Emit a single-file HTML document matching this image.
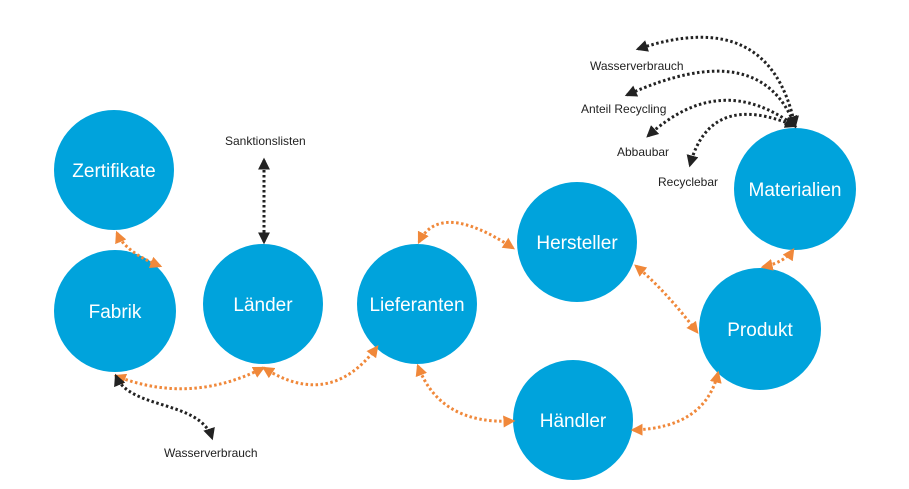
<!DOCTYPE html>
<html><head><meta charset="utf-8"><style>body{margin:0;background:#fff}svg{display:block}</style></head><body>
<svg width="909" height="489" viewBox="0 0 909 489" xmlns="http://www.w3.org/2000/svg" font-family="Liberation Sans, sans-serif">
<defs>
<marker id="ao" viewBox="0 0 10 10" refX="8" refY="5" markerWidth="4" markerHeight="4" orient="auto-start-reverse"><path d="M0,0L10,5L0,10z" fill="#f0883a"/></marker>
<marker id="ak" viewBox="0 0 10 10" refX="8" refY="5" markerWidth="4" markerHeight="4" orient="auto-start-reverse"><path d="M0,0L10,5L0,10z" fill="#222"/></marker>
</defs>
<g fill="#00a3dc">
<circle cx="114" cy="170" r="60"/><circle cx="115" cy="311" r="61"/><circle cx="263" cy="304" r="60"/><circle cx="417" cy="304" r="60"/><circle cx="577" cy="242" r="60"/><circle cx="573" cy="420" r="60"/><circle cx="760" cy="329" r="61"/><circle cx="795" cy="189" r="61"/>
</g>
<g fill="#fff" font-size="19" text-anchor="middle">
<text x="114" y="177">Zertifikate</text><text x="115" y="318">Fabrik</text><text x="263" y="311">Länder</text><text x="417" y="311">Lieferanten</text><text x="577" y="249">Hersteller</text><text x="573" y="427">Händler</text><text x="760" y="336">Produkt</text><text x="795" y="196">Materialien</text>
</g>
<g fill="none" stroke="#f0883a" stroke-width="3" stroke-dasharray="2.5 2.5" marker-start="url(#ao)" marker-end="url(#ao)">
<path d="M117,233 Q125,252 160,266"/>
<path d="M116,376 Q190,405 263,368"/>
<path d="M264,368 Q330,410 377,347"/>
<path d="M419,242 Q440,200 513,248"/>
<path d="M418,366 Q440,425 513,421"/>
<path d="M636,266 Q665,290 697,332"/>
<path d="M633,430 Q705,428 718,373"/>
<path d="M763,267 Q785,262 793,250"/>
</g>
<g fill="none" stroke="#222" stroke-width="3" stroke-dasharray="2.5 2.5" marker-start="url(#ak)" marker-end="url(#ak)">
<path d="M116,376 C130,410 200,400 212,438"/>
<path d="M264,160 L264,242"/>
<path d="M795,126 Q770,5 638,49"/>
<path d="M795,126 Q760,35 627,95"/>
<path d="M795,126 Q720,70 648,136"/>
<path d="M795,126 Q710,90 690,165"/>
</g>
<g fill="#222" font-size="12">
<text x="225" y="145">Sanktionslisten</text><text x="164" y="457">Wasserverbrauch</text>
<text x="590" y="70">Wasserverbrauch</text><text x="581" y="113">Anteil Recycling</text><text x="617" y="156">Abbaubar</text><text x="658" y="186">Recyclebar</text>
</g>
</svg>
</body></html>
